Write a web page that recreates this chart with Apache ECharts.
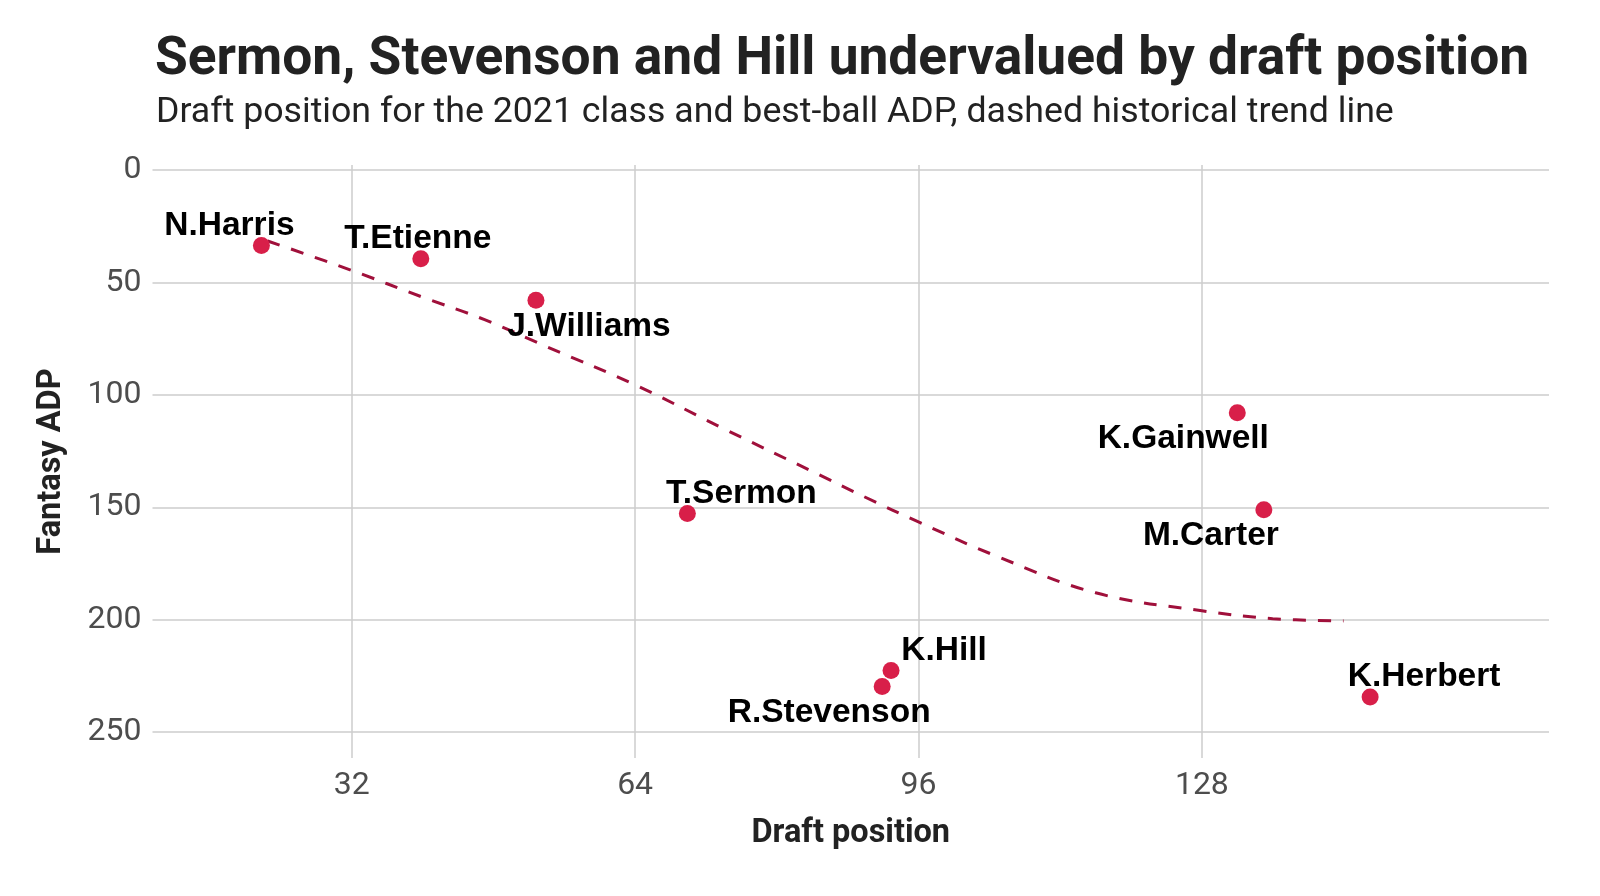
<!DOCTYPE html>
<html>
<head>
<meta charset="utf-8">
<script src="https://cdn.jsdelivr.net/npm/echarts@6/dist/echarts.min.js"></script>
<style>
html,body{margin:0;padding:0;background:#fff;}
#chart{width:1600px;height:896px;}
</style>
</head>
<body>
<div id="chart"></div>
<script>
// ---- data ----
const players = ['N.Harris', 'T.Etienne', 'J.Williams', 'T.Sermon', 'K.Gainwell', 'M.Carter', 'K.Hill', 'R.Stevenson', 'K.Herbert'];
const draftPosition = [21.8, 39.8, 52.8, 69.9, 132.0, 135.0, 92.9, 91.9, 147.0];
const fantasyADP = [33.5, 39.4, 57.9, 152.7, 107.9, 151.1, 222.6, 229.7, 234.4];

const trendX = [22.5, 32, 40, 47, 54, 64, 74, 84, 90, 96, 105, 116, 128, 136, 144];
const trendY = [31.5, 44.6, 56.5, 66.5, 78.5, 95.5, 115, 134, 145.5, 156.5, 172, 188, 196, 199.5, 200.5];

const xTicks = [32, 64, 96, 128];
const yTicks = [0, 50, 100, 150, 200, 250];

// label placement (pixel offsets of each name from its dot)
const labelOffsets = [[-32, -20], [-3, -20], [53, 26], [54, -20], [-54, 26], [-53, 26], [53, -20], [-53, 26], [54, -20]];

const chart = echarts.init(document.getElementById('chart'), null, {renderer: 'canvas'});

const scatterData = players.map((p, i) => ({
  name: p,
  value: [draftPosition[i], fantasyADP[i]]
}));
const trendData = trendX.map((x, i) => [x, trendY[i]]);

const option = {
  backgroundColor: '#ffffff',
  animation: false,
  title: [
    {
      text: 'Sermon, Stevenson and Hill undervalued by draft position',
      left: 150, top: 29,
      textStyle: {fontFamily: 'Roboto', fontWeight: 'bold', fontSize: 53.3, color: '#222222'}
    },
    {
      text: 'Draft position for the 2021 class and best-ball ADP, dashed historical trend line',
      left: 151, top: 90,
      textStyle: {fontFamily: 'Roboto', fontWeight: 'normal', fontSize: 35.7, color: '#222222'}
    }
  ],
  grid: {left: 152.5, right: 51, top: 165, bottom: 138, containLabel: false},
  xAxis: {
    type: 'value',
    min: 9.5, max: 167.2,
    name: 'Draft position',
    nameLocation: 'middle',
    nameGap: 59,
    nameTextStyle: {fontFamily: 'Roboto', fontWeight: 'bold', fontSize: 32.5, color: '#222222'},
    axisLine: {show: false},
    axisTick: {show: false, customValues: xTicks},
    axisLabel: {customValues: xTicks, margin: 12, fontFamily: 'Roboto', fontSize: 32, color: '#4d4d4d'},
    splitLine: {show: true, lineStyle: {color: '#cccccc', width: 1.5}}
  },
  yAxis: {
    type: 'value',
    inverse: true,
    min: -2.3, max: 261.5,
    name: 'Fantasy ADP',
    nameLocation: 'middle',
    nameGap: 84,
    nameTextStyle: {fontFamily: 'Roboto', fontWeight: 'bold', fontSize: 32.5, color: '#222222'},
    axisLine: {show: false},
    axisTick: {show: false, customValues: yTicks},
    axisLabel: {customValues: yTicks, margin: 11, padding: [8, 0, 0, 0], fontFamily: 'Roboto', fontSize: 32, color: '#4d4d4d'},
    splitLine: {show: true, lineStyle: {color: '#cccccc', width: 1.5}}
  },
  series: [
    {
      type: 'line',
      data: trendData,
      smooth: 0.4,
      showSymbol: false,
      symbol: 'none',
      z: 2,
      lineStyle: {color: '#a0103b', width: 3, type: [13, 12]}
    },
    {
      type: 'scatter',
      data: scatterData,
      symbolSize: 17,
      z: 3,
      itemStyle: {color: '#d81f49', opacity: 1},
      label: {
        show: true,
        position: 'inside',
        formatter: '{b}',
        fontFamily: 'Liberation Sans, Arial, sans-serif',
        fontWeight: 'bold',
        fontSize: 33.5,
        color: '#000000',
        align: 'center',
        verticalAlign: 'middle'
      },
      labelLayout: function (params) {
        const o = labelOffsets[params.dataIndex];
        return {dx: o[0], dy: o[1], hideOverlap: false};
      }
    }
  ]
};
chart.setOption(option);
</script>
</body>
</html>
